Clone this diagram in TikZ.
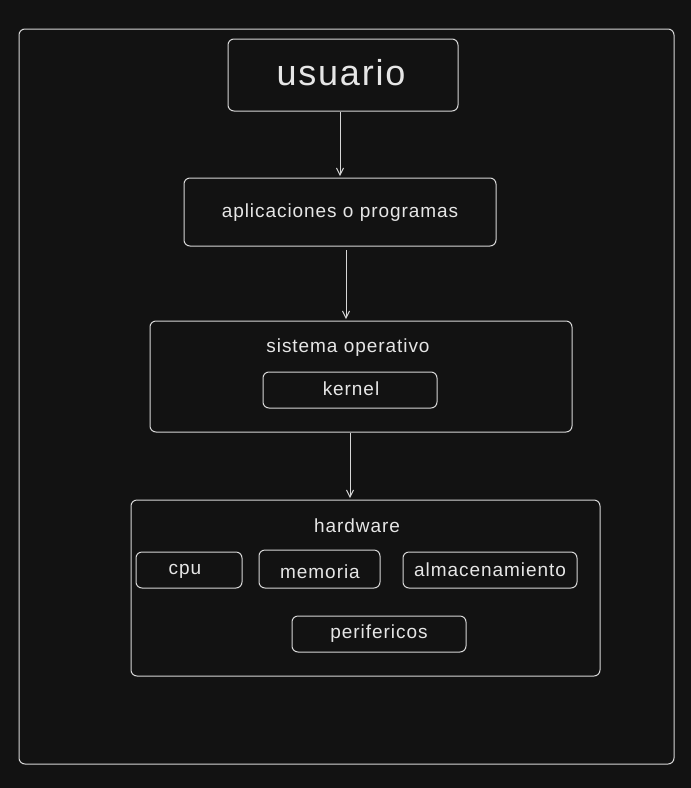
\documentclass[tikz,border=0pt]{standalone}
\usepackage{fontspec}
\setmainfont{Liberation Sans}[LetterSpace=5]
\usetikzlibrary{arrows.meta}
\definecolor{bg}{HTML}{121212}
\definecolor{ln}{HTML}{D6D6D6}
\definecolor{tx}{HTML}{E6E6E6}
\begin{document}
\begin{tikzpicture}[x=1pt,y=-1pt,
  frame/.style={draw=ln,line width=1pt,rounded corners=6pt},
  lbl/.style={text=tx,inner sep=0pt,font=\fontsize{19}{22}\selectfont},
  conn/.style={draw=ln,line width=1pt,-{Straight Barb[length=7pt,width=7pt]}}]
\fill[bg] (0,0) rectangle (691,788);
\useasboundingbox (0,0) rectangle (691,788);
% outer frame
\draw[frame] (19,29) rectangle (674,764);
% usuario
\draw[frame] (228,39) rectangle (458,111);
\node[lbl,font=\fontsize{36}{40}\selectfont] (usuario) at (341,73) {usuario};
\coordinate (u1) at (340,112);
\coordinate (u2) at (340,176);
% apps
\draw[frame] (184,178) rectangle (496,246);
\node[lbl] (apps) at (340,213) {aplicaciones o programas};
\coordinate (a1) at (346,250);
\coordinate (a2) at (346,319);
% sistema operativo
\draw[frame] (150,321) rectangle (572,432);
\node[lbl] (so) at (348,348) {sistema operativo};
\draw[frame] (263,372) rectangle (437,408);
\node[lbl] (kernel) at (351,389) {kernel};
\coordinate (s1) at (350,433);
\coordinate (s2) at (350,498);
% hardware
\draw[frame] (131,500) rectangle (600,676);
\node[lbl] (hw) at (357,526) {hardware};
\draw[frame] (136,552) rectangle (242,588);
\node[lbl] (cpu) at (185,571) {cpu};
\draw[frame] (259,550) rectangle (380,588);
\node[lbl] (mem) at (320,572) {memoria};
\draw[frame] (403,552) rectangle (577,588);
\node[lbl] (alm) at (490,570) {almacenamiento};
\draw[frame] (292,616) rectangle (466,652);
\node[lbl] (per) at (379,634) {perifericos};
% connectors
\draw[conn] (u1) -- (u2);
\draw[conn] (a1) -- (a2);
\draw[conn] (s1) -- (s2);
\end{tikzpicture}
\end{document}
